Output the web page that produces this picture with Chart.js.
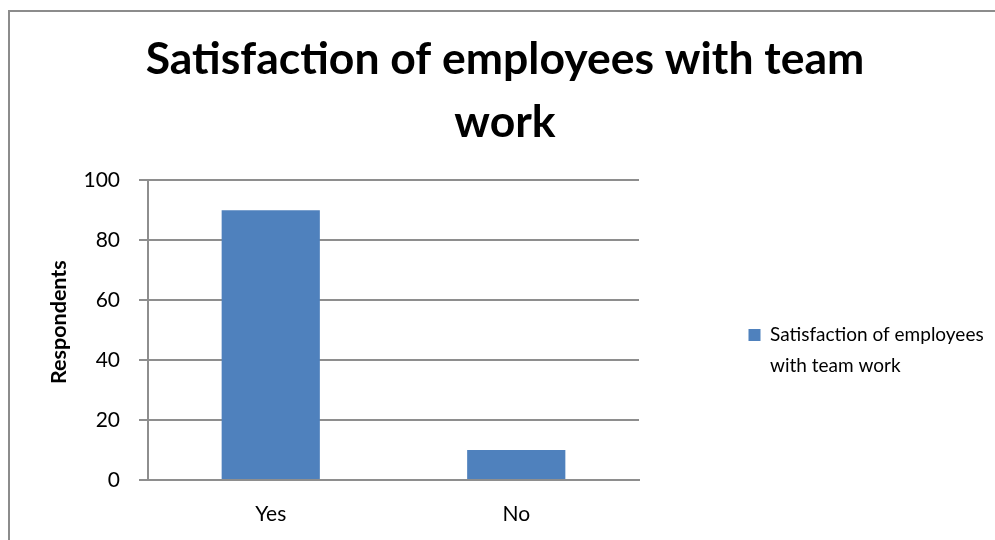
<!DOCTYPE html>
<html>
<head>
<meta charset="utf-8">
<script src="https://cdn.jsdelivr.net/npm/chart.js@4/dist/chart.umd.min.js"></script>
<style>
  html, body { margin: 0; padding: 0; background: #fff; overflow: hidden; width: 995px; height: 540px; }
  .frame { position: absolute; left: 8px; top: 10px; width: 994px; height: 689px; border: 2px solid #8c8c8c; }
</style>
</head>
<body>
<div class="frame"><canvas id="chart"></canvas></div>
<script>
const categories = ['Yes', 'No'];
const respondents = [90, 10];
const seriesName = 'Satisfaction of employees with team work';
const legendLines = ['Satisfaction of employees', 'with team work'];
const titleLines = ['Satisfaction of employees with team', 'work'];
const yTicks = { min: 0, max: 100, step: 20 };

const gridColor = '#8e8e8e';
const barColor = '#4f81bd';
const legendFont = { family: 'Lato', size: 19, lineHeight: 1.63 };
const axisTitleFont = { family: 'Lato', size: 21.5, weight: 'bold' };

// plot box wanted inside the canvas, and legend spacing
const plotLeft = 138, plotRight = 629;
const legendGap = 109.5, legendBox = 12;
const axisTitleX = 49;

const pad = { left: 20, right: 24, top: 0, bottom: 0 };

const chart = new Chart(document.getElementById('chart'), {
  type: 'bar',
  data: {
    labels: categories,
    datasets: [{
      label: seriesName,
      data: respondents,
      backgroundColor: barColor,
      borderWidth: 0,
      barPercentage: 0.4,
      categoryPercentage: 1.0
    }]
  },
  options: {
    responsive: true,
    maintainAspectRatio: false,
    animation: false,
    layout: { padding: pad },
    plugins: {
      title: {
        display: true,
        text: titleLines,
        color: '#000',
        font: { family: 'Lato', size: 44.5, weight: 'bold', lineHeight: 1.42 },
        padding: { top: 16, bottom: 26 }
      },
      legend: {
        position: 'right',
        maxWidth: 600,
        labels: {
          color: '#000',
          boxWidth: legendBox,
          boxHeight: legendBox,
          padding: legendGap,
          font: legendFont,
          generateLabels(chart) {
            const items = Chart.defaults.plugins.legend.labels.generateLabels(chart);
            items.forEach(it => { it.text = legendLines; });
            return items;
          }
        }
      },
      tooltip: { enabled: false }
    },
    scales: {
      x: {
        grid: { display: false, drawTicks: false },
        border: { display: true, color: gridColor, width: 2 },
        ticks: { color: '#000', padding: 22, font: { family: 'Lato', size: 21 } },
        afterFit(scale) { scale.height = 221; }
      },
      y: {
        min: yTicks.min,
        max: yTicks.max,
        ticks: { stepSize: yTicks.step, color: '#000', padding: 19, font: { family: 'Lato', size: 21 } },
        grid: { color: gridColor, lineWidth: 2, tickLength: 9 },
        border: { display: true, color: gridColor, width: 2 },
        title: {
          display: true,
          // leading em space nudges the rotated label a little upward
          text: '\u2003Respondents',
          color: '#000',
          font: axisTitleFont,
          padding: { top: 8, bottom: 0 }
        },
        afterFit(scale) { scale.width = plotLeft - pad.left; }
      }
    }
  }
});

// shift the side paddings so the plot box lands where wanted, keeping the
// title centred; the legend column width comes from the measured text
const dx = plotRight - chart.chartArea.right;
pad.right -= dx;
pad.left = pad.right - 4;
chart.options.layout.padding = pad;
chart.options.scales.y.title.padding = { top: axisTitleX - pad.left - axisTitleFont.size * 0.6, bottom: 0 };
chart.update();
</script>
</body>
</html>
